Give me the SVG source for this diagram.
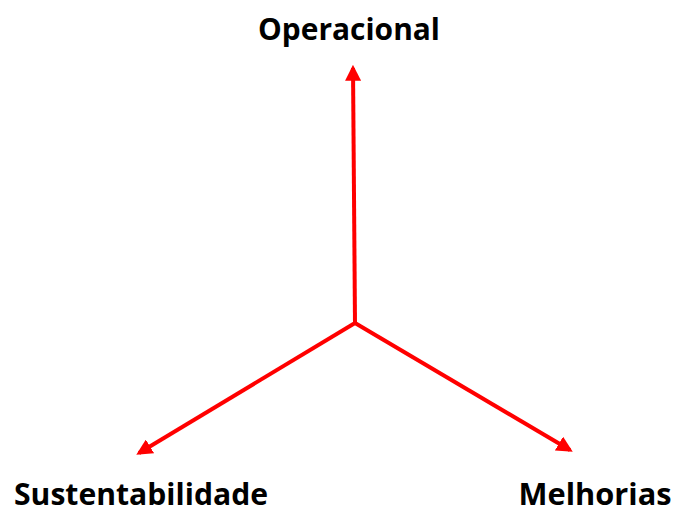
<svg xmlns="http://www.w3.org/2000/svg" width="675" height="511" viewBox="0 0 675 511">
  <style>
    .label { font-family: "Open Sans", "Liberation Sans", sans-serif; font-weight: bold; font-size: 31px; fill: #000; text-anchor: middle; }
    .axis { stroke: #f00; stroke-width: 4; fill: none; marker-end: url(#head); }
  </style>
  <defs>
    <marker id="head" viewBox="0 0 10 10" refX="8" refY="5" markerWidth="4" markerHeight="4" orient="auto" markerUnits="strokeWidth">
      <path d="M0,0 L10,5 L0,10 z" fill="#f00"/>
    </marker>
  </defs>
  <rect width="675" height="511" fill="#fff"/>
  <!-- three axes radiating from a common origin -->
  <g id="connectors">
    <line class="axis" x1="355" y1="323" x2="353" y2="68"/>
    <line class="axis" x1="355" y1="323" x2="139" y2="453"/>
    <line class="axis" x1="355" y1="323" x2="570" y2="450"/>
  </g>
  <g id="operacional">
    <text class="label" x="349" y="40" textLength="182" lengthAdjust="spacingAndGlyphs">Operacional</text>
  </g>
  <g id="sustentabilidade">
    <text class="label" x="141" y="505" textLength="254" lengthAdjust="spacingAndGlyphs">Sustentabilidade</text>
  </g>
  <g id="melhorias">
    <text class="label" x="595" y="505" textLength="153" lengthAdjust="spacingAndGlyphs">Melhorias</text>
  </g>
</svg>
